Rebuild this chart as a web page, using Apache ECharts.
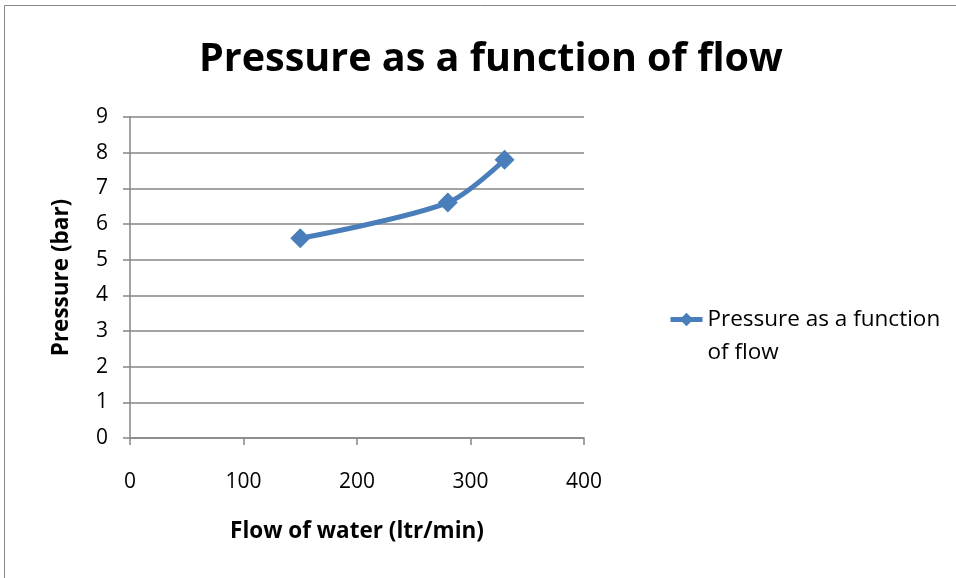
<!DOCTYPE html>
<html>
<head>
<meta charset="utf-8">
<script src="https://cdn.jsdelivr.net/npm/echarts@6/dist/echarts.min.js"></script>
<style>
  html, body { margin: 0; padding: 0; background: #fff; }
  #chart { width: 956px; height: 578px; }
</style>
</head>
<body>
<div id="chart"></div>
<script>
// flow (ltr/min) and pressure (bar)
var flow = [150, 280, 330];
var pressure = [5.6, 6.6, 7.8];
var seriesName = "Pressure as a function of flow";

var points = flow.map(function (f, i) { return [f, pressure[i]]; });
var font = "'Open Sans', 'Noto Sans', sans-serif";

var chart = echarts.init(document.getElementById("chart"));
chart.setOption({
  animation: false,
  backgroundColor: "#fff",
  textStyle: { fontFamily: font },
  graphic: [
    {
      type: "rect",
      shape: { x: 4.5, y: 5.5, width: 2000, height: 2000 },
      style: { fill: "none", stroke: "#868686", lineWidth: 1 },
      silent: true
    }
  ],
  title: {
    text: "Pressure as a function of flow",
    left: 194,
    top: 35,
    textStyle: { fontFamily: font, fontSize: 39.5, fontWeight: "bold", color: "#000" }
  },
  legend: {
    data: [seriesName],
    orient: "vertical",
    left: 668,
    top: 270,
    padding: 0,
    itemWidth: 32,
    itemHeight: 17,
    itemGap: 4,
    lineStyle: { width: 5 },
    // empty first line keeps the icon level with the first visible line
    formatter: function () { return "\nPressure as a function\nof flow"; },
    textStyle: { fontFamily: font, fontSize: 22.5, color: "#000", lineHeight: 33 }
  },
  grid: { left: 130, right: 372, top: 117, bottom: 140 },
  xAxis: {
    type: "value",
    min: 0,
    max: 400,
    interval: 100,
    name: "Flow of water (ltr/min)",
    nameLocation: "middle",
    nameGap: 82,
    nameTextStyle: { fontFamily: font, fontSize: 22.5, fontWeight: "bold", color: "#000" },
    axisLine: { show: true, lineStyle: { color: "#868686", width: 1.5 } },
    axisTick: { show: true, inside: false, length: 7, lineStyle: { color: "#868686", width: 1.5 } },
    axisLabel: { fontFamily: font, fontSize: 21, color: "#000", margin: 34 },
    splitLine: { show: false }
  },
  yAxis: {
    type: "value",
    min: 0,
    max: 9,
    interval: 1,
    name: "Pressure (bar)",
    nameLocation: "middle",
    nameGap: 57,
    nameTextStyle: { fontFamily: font, fontSize: 22.5, fontWeight: "bold", color: "#000" },
    axisLine: { show: true, lineStyle: { color: "#868686", width: 1.5 } },
    axisTick: { show: true, inside: false, length: 7, lineStyle: { color: "#868686", width: 1.5 } },
    axisLabel: { fontFamily: font, fontSize: 21, color: "#000", margin: 22 },
    splitLine: { show: true, lineStyle: { color: "#868686", width: 1.5 } }
  },
  series: [
    {
      name: seriesName,
      type: "line",
      data: points,
      smooth: 0.3,
      symbol: "diamond",
      symbolSize: 20,
      showAllSymbol: true,
      lineStyle: { color: "#4A7EBB", width: 5 },
      itemStyle: { color: "#4A7EBB" }
    }
  ]
});
</script>
</body>
</html>
